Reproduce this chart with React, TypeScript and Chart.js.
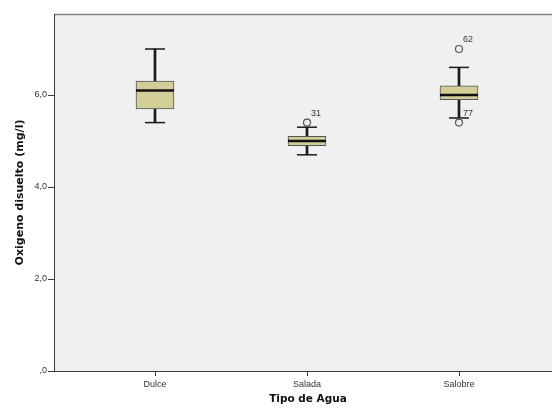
import React, { useEffect, useRef } from "react";
import { Chart, registerables } from "chart.js";

Chart.register(...registerables);

const categories = ["Dulce", "Salada", "Salobre"];
const whiskerMin = [5.4, 4.7, 5.5];
const q1 = [5.7, 4.9, 5.9];
const medians = [6.1, 5.0, 6.0];
const q3 = [6.3, 5.1, 6.2];
const whiskerMax = [7.0, 5.3, 6.6];
const outlierGroup = [1, 2, 2];
const outlierValues = [5.4, 7.0, 5.4];
const outlierLabels = ["31", "62", "77"];
const yTickValues = [0, 2, 4, 6];
const yTickLabels = [",0", "2,0", "4,0", "6,0"];

const plotBg = "#f0f0f0";
const axisColor = "#3a3a3a";
const textColor = "#333333";

export default function App() {
  const ref = useRef<HTMLCanvasElement | null>(null);

  useEffect(() => {
    if (!ref.current) return;
    const bgPlugin = {
      id: "bgPlugin",
      beforeDraw(chart: any) {
        const { ctx, chartArea } = chart;
        ctx.save();
        ctx.fillStyle = plotBg;
        ctx.fillRect(chartArea.left, chartArea.top, chartArea.right - chartArea.left, chartArea.bottom - chartArea.top);
        ctx.strokeStyle = "#808080";
        ctx.lineWidth = 1.5;
        ctx.beginPath();
        ctx.moveTo(chartArea.left, chartArea.top + 0.5);
        ctx.lineTo(chartArea.right, chartArea.top + 0.5);
        ctx.stroke();
        ctx.restore();
      },
      afterDatasetsDraw(chart: any) {
        const { ctx } = chart;
        const xs = chart.scales.x;
        const ys = chart.scales.y;
        ctx.save();
        ctx.fillStyle = textColor;
        ctx.font = "9px 'Liberation Sans', Arial, sans-serif";
        ctx.textAlign = "left";
        ctx.textBaseline = "middle";
        outlierLabels.forEach((lab, i) => {
          const px = xs.getPixelForValue(outlierGroup[i]);
          const py = ys.getPixelForValue(outlierValues[i]);
          ctx.fillText(lab, px + 4, py - 9);
        });
        ctx.restore();
      },
    };

    const idx = categories.map((_, i) => i);
    const chart = new Chart(ref.current, {
      type: "bar",
      data: {
        datasets: [
          {
            type: "bar",
            data: [
              ...idx.map((i) => ({ x: i, y: [whiskerMin[i], q1[i]] })),
              ...idx.map((i) => ({ x: i, y: [q3[i], whiskerMax[i]] })),
            ] as any,
            backgroundColor: "#1a1a1a",
            borderWidth: 0,
            barThickness: 2,
            grouped: false,
            order: 5,
          } as any,
          {
            type: "bar",
            data: idx.map((i) => ({ x: i, y: [q1[i], q3[i]] })) as any,
            backgroundColor: "#d3ce97",
            borderColor: "#555555",
            borderWidth: 1,
            borderSkipped: false,
            barThickness: 38,
            grouped: false,
            order: 4,
          } as any,
          {
            type: "scatter",
            data: idx.map((i) => ({ x: i, y: medians[i] })),
            pointStyle: "line",
            pointRadius: 19,
            borderColor: "#111111",
            borderWidth: 2.5,
            order: 3,
          } as any,
          {
            type: "scatter",
            data: [
              ...idx.map((i) => ({ x: i, y: whiskerMin[i] })),
              ...idx.map((i) => ({ x: i, y: whiskerMax[i] })),
            ],
            pointStyle: "line",
            pointRadius: 10,
            borderColor: "#1a1a1a",
            borderWidth: 1.5,
            order: 2,
          } as any,
          {
            type: "scatter",
            data: outlierValues.map((v, i) => ({ x: outlierGroup[i], y: v })),
            pointStyle: "circle",
            pointRadius: 3.5,
            borderColor: "#555555",
            backgroundColor: plotBg,
            borderWidth: 1.2,
            order: 1,
          } as any,
        ],
      },
      options: {
        animation: false,
        responsive: false,
        events: [],
        layout: { autoPadding: false, padding: { top: 14, left: 0, right: 0, bottom: 0 } },
        plugins: { legend: { display: false }, tooltip: { enabled: false } },
        scales: {
          x: {
            type: "linear",
            offset: false,
            min: -101 / 152,
            max: 2 + 103 / 152,
            afterFit: (s: any) => {
              s.height = 37;
            },
            afterBuildTicks: (s: any) => {
              s.ticks = idx.map((v) => ({ value: v }));
            },
            ticks: {
              autoSkip: false,
              maxRotation: 0,
              padding: 3,
              color: textColor,
              font: { family: "'Liberation Sans', Arial, sans-serif", size: 9 },
              callback: (v: any) => categories[Math.round(Number(v))] ?? "",
            },
            grid: { display: true, offset: false, drawOnChartArea: false, drawTicks: true, tickLength: 5, color: axisColor, lineWidth: 1 },
            border: { display: true, color: axisColor, width: 1 },
            title: {
              display: true,
              text: "Tipo de Agua",
              color: "#111111",
              font: { family: "'DejaVu Sans', sans-serif", size: 10.5, weight: "bold" },
              padding: { top: 0, bottom: 2 },
            },
          },
          y: {
            type: "linear",
            min: 0,
            max: 357 / 46,
            afterFit: (s: any) => {
              s.width = 54;
            },
            afterBuildTicks: (s: any) => {
              s.ticks = yTickValues.map((v) => ({ value: v }));
            },
            ticks: {
              padding: 1,
              color: textColor,
              font: { family: "'Liberation Sans', Arial, sans-serif", size: 9 },
              callback: (v: any) => {
                const k = yTickValues.indexOf(Number(v));
                return k >= 0 ? yTickLabels[k] : "";
              },
            },
            grid: { display: true, drawOnChartArea: false, drawTicks: true, tickLength: 6, color: axisColor },
            border: { display: true, color: axisColor, width: 1 },
            title: {
              display: true,
              text: "Oxigeno disuelto (mg/l)",
              color: "#111111",
              font: { family: "'DejaVu Sans', sans-serif", size: 11, weight: "bold" },
              padding: { top: 14, bottom: 0 },
            },
          },
        },
      } as any,
      plugins: [bgPlugin],
    });
    return () => chart.destroy();
  }, []);

  return (
    <div style={{ position: "absolute", left: 0, top: 0, width: 552, height: 408, overflow: "hidden", background: "#fff" }}>
      <canvas ref={ref} width={562} height={408} style={{ width: 562, height: 408, display: "block" }} />
    </div>
  );
}
